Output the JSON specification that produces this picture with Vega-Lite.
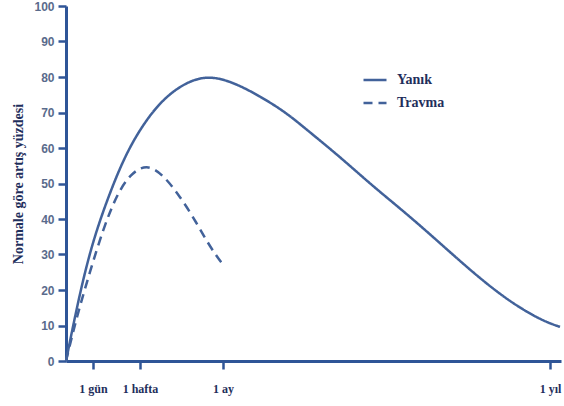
{
  "$schema": "https://vega.github.io/schema/vega-lite/v6.json",
  "autosize": {"type": "none"},
  "width": 495,
  "height": 355,
  "padding": {"left": 66, "top": 6, "right": 3, "bottom": 45},
  "background": "white",
  "config": {"view": {"stroke": null}},
  "data": {
    "values": [
      {"seri": "Yanık", "t": 0, "deger": 0},
      {"seri": "Yanık", "t": 14, "deger": 19.5},
      {"seri": "Yanık", "t": 27.3, "deger": 34.3},
      {"seri": "Yanık", "t": 44, "deger": 47.6},
      {"seri": "Yanık", "t": 60.7, "deger": 58.9},
      {"seri": "Yanık", "t": 80.7, "deger": 68.3},
      {"seri": "Yanık", "t": 104, "deger": 75.9},
      {"seri": "Yanık", "t": 137, "deger": 80.9},
      {"seri": "Yanık", "t": 167, "deger": 78.6},
      {"seri": "Yanık", "t": 194, "deger": 74.6},
      {"seri": "Yanık", "t": 220, "deger": 70.0},
      {"seri": "Yanık", "t": 241, "deger": 65.1},
      {"seri": "Yanık", "t": 274, "deger": 57.5},
      {"seri": "Yanık", "t": 307, "deger": 49.2},
      {"seri": "Yanık", "t": 341, "deger": 41.4},
      {"seri": "Yanık", "t": 374, "deger": 33.2},
      {"seri": "Yanık", "t": 407, "deger": 24.9},
      {"seri": "Yanık", "t": 441, "deger": 17.2},
      {"seri": "Yanık", "t": 474, "deger": 11.6},
      {"seri": "Yanık", "t": 494, "deger": 9.6},
      {"seri": "Travma", "t": 0, "deger": 0},
      {"seri": "Travma", "t": 10.7, "deger": 12.4},
      {"seri": "Travma", "t": 24, "deger": 25.2},
      {"seri": "Travma", "t": 37.3, "deger": 37.3},
      {"seri": "Travma", "t": 50.7, "deger": 46.8},
      {"seri": "Travma", "t": 64, "deger": 52.6},
      {"seri": "Travma", "t": 80.7, "deger": 55.6},
      {"seri": "Travma", "t": 97.3, "deger": 52.4},
      {"seri": "Travma", "t": 114, "deger": 46.4},
      {"seri": "Travma", "t": 130.7, "deger": 38.9},
      {"seri": "Travma", "t": 144, "deger": 32.1},
      {"seri": "Travma", "t": 157.3, "deger": 27}
    ]
  },
  "mark": {"type": "line", "color": "#42629a", "strokeWidth": 2.5, "interpolate": "basis"},
  "encoding": {
    "x": {
      "field": "t",
      "type": "quantitative",
      "scale": {"domain": [0, 495], "nice": false, "zero": true},
      "axis": {
        "title": null,
        "grid": false,
        "values": [27, 74, 157, 484],
        "labelExpr": "datum.value == 27 ? '1 gün' : datum.value == 74 ? '1 hafta' : datum.value == 157 ? '1 ay' : '1 yıl'",
        "domainColor": "#2f5597",
        "domainWidth": 3,
        "tickColor": "#2f5597",
        "tickWidth": 2.5,
        "tickSize": 8,
        "labelPadding": 14,
        "labelFont": "Liberation Serif",
        "labelFontWeight": "bold",
        "labelFontSize": 12,
        "labelColor": "#1f2f5c"
      }
    },
    "y": {
      "field": "deger",
      "type": "quantitative",
      "scale": {"domain": [0, 100], "nice": false},
      "axis": {
        "title": "Normale göre artış yüzdesi",
        "titleFont": "Liberation Serif",
        "titleFontWeight": "bold",
        "titleFontSize": 14,
        "titleColor": "#1f2f5c",
        "titlePadding": 8,
        "grid": false,
        "values": [0, 10, 20, 30, 40, 50, 60, 70, 80, 90, 100],
        "domainColor": "#2f5597",
        "domainWidth": 3,
        "tickColor": "#2f5597",
        "tickWidth": 2.5,
        "tickSize": 8,
        "labelPadding": 4,
        "labelFont": "Liberation Sans",
        "labelFontWeight": "bold",
        "labelFontSize": 12,
        "labelColor": "#5a6b8c"
      }
    },
    "strokeDash": {
      "field": "seri",
      "type": "nominal",
      "scale": {"domain": ["Yanık", "Travma"], "range": [[1, 0], [9, 6]]},
      "legend": {
        "title": null,
        "orient": "none",
        "legendX": 296,
        "legendY": 61,
        "padding": 0,
        "symbolType": "stroke",
        "symbolSize": 529,
        "symbolStrokeWidth": 2.5,
        "symbolStrokeColor": "#42629a",
        "labelFont": "Liberation Serif",
        "labelFontWeight": "bold",
        "labelFontSize": 14,
        "labelColor": "#1f2f5c",
        "labelOffset": 9,
        "rowPadding": 3
      }
    }
  }
}
